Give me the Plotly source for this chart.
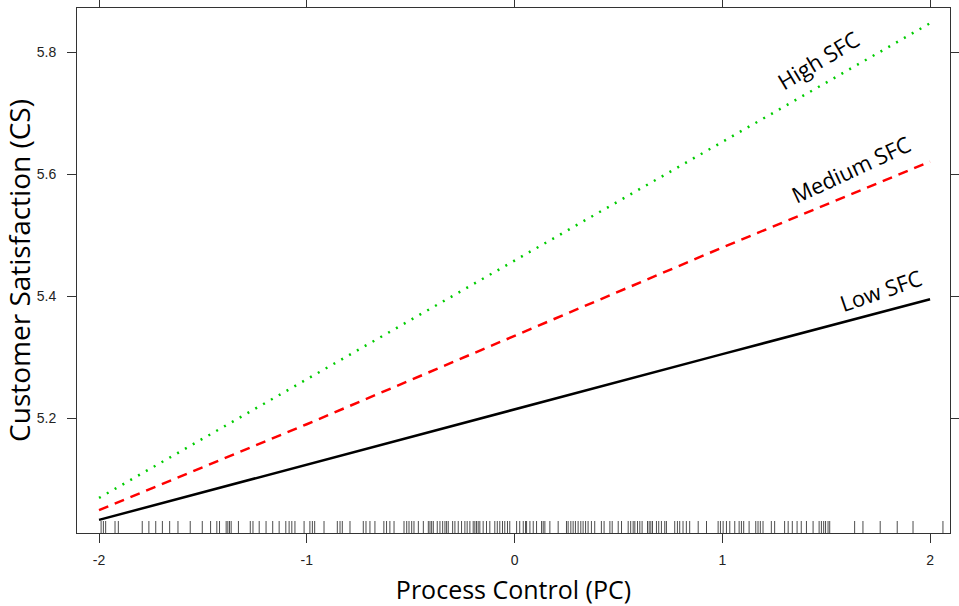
import plotly.graph_objects as go

# ---- data ----
pc_values = [-2, -1, 0, 1, 2]
cs_low = [5.033, 5.124, 5.214, 5.305, 5.395]
cs_medium = [5.049, 5.190, 5.335, 5.480, 5.621]
cs_high = [5.069, 5.264, 5.458, 5.653, 5.848]

rug_pc = [
    -1.990, -1.979, -1.968, -1.923, -1.907, -1.792, -1.760, -1.727, -1.695, -1.660,
    -1.620, -1.561, -1.503, -1.463, -1.433, -1.420, -1.388, -1.380, -1.372, -1.364,
    -1.329, -1.272, -1.259, -1.229, -1.196, -1.164, -1.133, -1.101, -1.085, -1.072,
    -1.057, -1.013,
    -0.985, -0.973, -0.962, -0.917, -0.853, -0.840, -0.829, -0.792, -0.728, -0.715,
    -0.696, -0.672, -0.629, -0.616, -0.600, -0.580, -0.532, -0.519, -0.508, -0.495,
    -0.484, -0.463, -0.439, -0.415, -0.407, -0.399, -0.391, -0.372, -0.359, -0.346,
    -0.335, -0.327, -0.319, -0.298, -0.287, -0.271, -0.255, -0.239, -0.228, -0.215,
    -0.199, -0.191, -0.183, -0.175, -0.167, -0.151, -0.135, -0.119, -0.095, -0.083,
    -0.071, -0.058, -0.047, -0.034, -0.023, 0.010, 0.025, 0.042, 0.053,
    0.058, 0.074, 0.090, 0.106, 0.130, 0.138, 0.146, 0.170, 0.210, 0.250,
    0.258, 0.271, 0.282, 0.293, 0.306, 0.319, 0.330, 0.342, 0.354, 0.370,
    0.386, 0.418, 0.431, 0.459, 0.470, 0.499, 0.515, 0.547, 0.559, 0.571,
    0.579, 0.592, 0.603, 0.614, 0.640, 0.648, 0.656, 0.664, 0.683, 0.694,
    0.707, 0.723, 0.731, 0.771, 0.784, 0.795, 0.811, 0.827, 0.843, 0.884,
    0.924, 0.980, 0.991, 1.004, 1.020, 1.036, 1.060,
    1.081, 1.092, 1.103, 1.129, 1.161, 1.172, 1.183, 1.196, 1.236, 1.252,
    1.300, 1.317, 1.337, 1.360, 1.380, 1.405, 1.437, 1.466, 1.477, 1.488,
    1.497, 1.509, 1.517, 1.637, 1.677, 1.760, 1.842, 1.918, 2.062,
]

x_ticks = [-2, -1, 0, 1, 2]
y_ticks = [5.2, 5.4, 5.6, 5.8]

line_labels = ["Low SFC", "Medium SFC", "High SFC"]

X_RANGE = [-2.106, 2.096]
Y_RANGE = [5.0115, 5.873]

W, H = 959, 606
M = dict(l=77, r=9, t=8, b=73)
plot_h = H - M["t"] - M["b"]
rug_len = 10
rug_y = Y_RANGE[0] + (Y_RANGE[1] - Y_RANGE[0]) * (rug_len / 2) / plot_h

fig = go.Figure()

fig.add_trace(go.Scatter(
    x=rug_pc, y=[rug_y] * len(rug_pc), mode="markers",
    marker=dict(symbol="line-ns-open", size=rug_len, color="rgba(0,0,0,0.7)",
                line=dict(color="rgba(0,0,0,0.7)", width=1)),
    hoverinfo="skip", showlegend=False))

fig.add_trace(go.Scatter(x=pc_values, y=cs_low, mode="lines", name=line_labels[0],
                         line=dict(color="black", width=2.5, dash="solid")))
fig.add_trace(go.Scatter(x=pc_values, y=cs_medium, mode="lines", name=line_labels[1],
                         line=dict(color="#ff0000", width=2.5, dash="10px,7px")))
fig.add_trace(go.Scatter(x=pc_values, y=cs_high, mode="lines", name=line_labels[2],
                         line=dict(color="#00cc00", width=2.5, dash="2px,7px")))

label_font = dict(family="Open Sans, Noto Sans, sans-serif", size=22, color="black")
fig.add_annotation(x=1.762, y=5.411, text=line_labels[0], showarrow=False,
                   textangle=-19, font=label_font, xanchor="center", yanchor="middle")
fig.add_annotation(x=1.618, y=5.608, text=line_labels[1], showarrow=False,
                   textangle=-25, font=label_font, xanchor="center", yanchor="middle")
fig.add_annotation(x=1.459, y=5.788, text=line_labels[2], showarrow=False,
                   textangle=-31, font=label_font, xanchor="center", yanchor="middle")

axis_common = dict(
    showgrid=False, zeroline=False, showline=True, linecolor="#333333", linewidth=1,
    mirror="ticks", ticks="outside", ticklen=9, tickcolor="#333333", tickwidth=1,
    tickfont=dict(family="Liberation Sans, Arial, sans-serif", size=14, color="#222222"),
    automargin=False,
)

fig.update_xaxes(range=X_RANGE, tickvals=x_ticks, ticktext=[str(v) for v in x_ticks],
                 ticklabelstandoff=5,
                 title=dict(text="Process Control (PC)", standoff=14,
                            font=dict(family="Open Sans, Noto Sans, sans-serif", size=25, color="black")),
                 **axis_common)
fig.update_yaxes(range=Y_RANGE, tickvals=y_ticks, ticktext=[f"{v:.1f}" for v in y_ticks],
                 ticklabelstandoff=8,
                 title=dict(text="Customer Satisfaction (CS)", standoff=15,
                            font=dict(family="Open Sans, Noto Sans, sans-serif", size=28, color="black")),
                 **axis_common)

fig.update_layout(width=W, height=H, margin=M, plot_bgcolor="white", paper_bgcolor="white",
                  showlegend=False)

fig.write_html("out.html", config={"displayModeBar": False},
               post_script="document.body.style.margin='0';")
